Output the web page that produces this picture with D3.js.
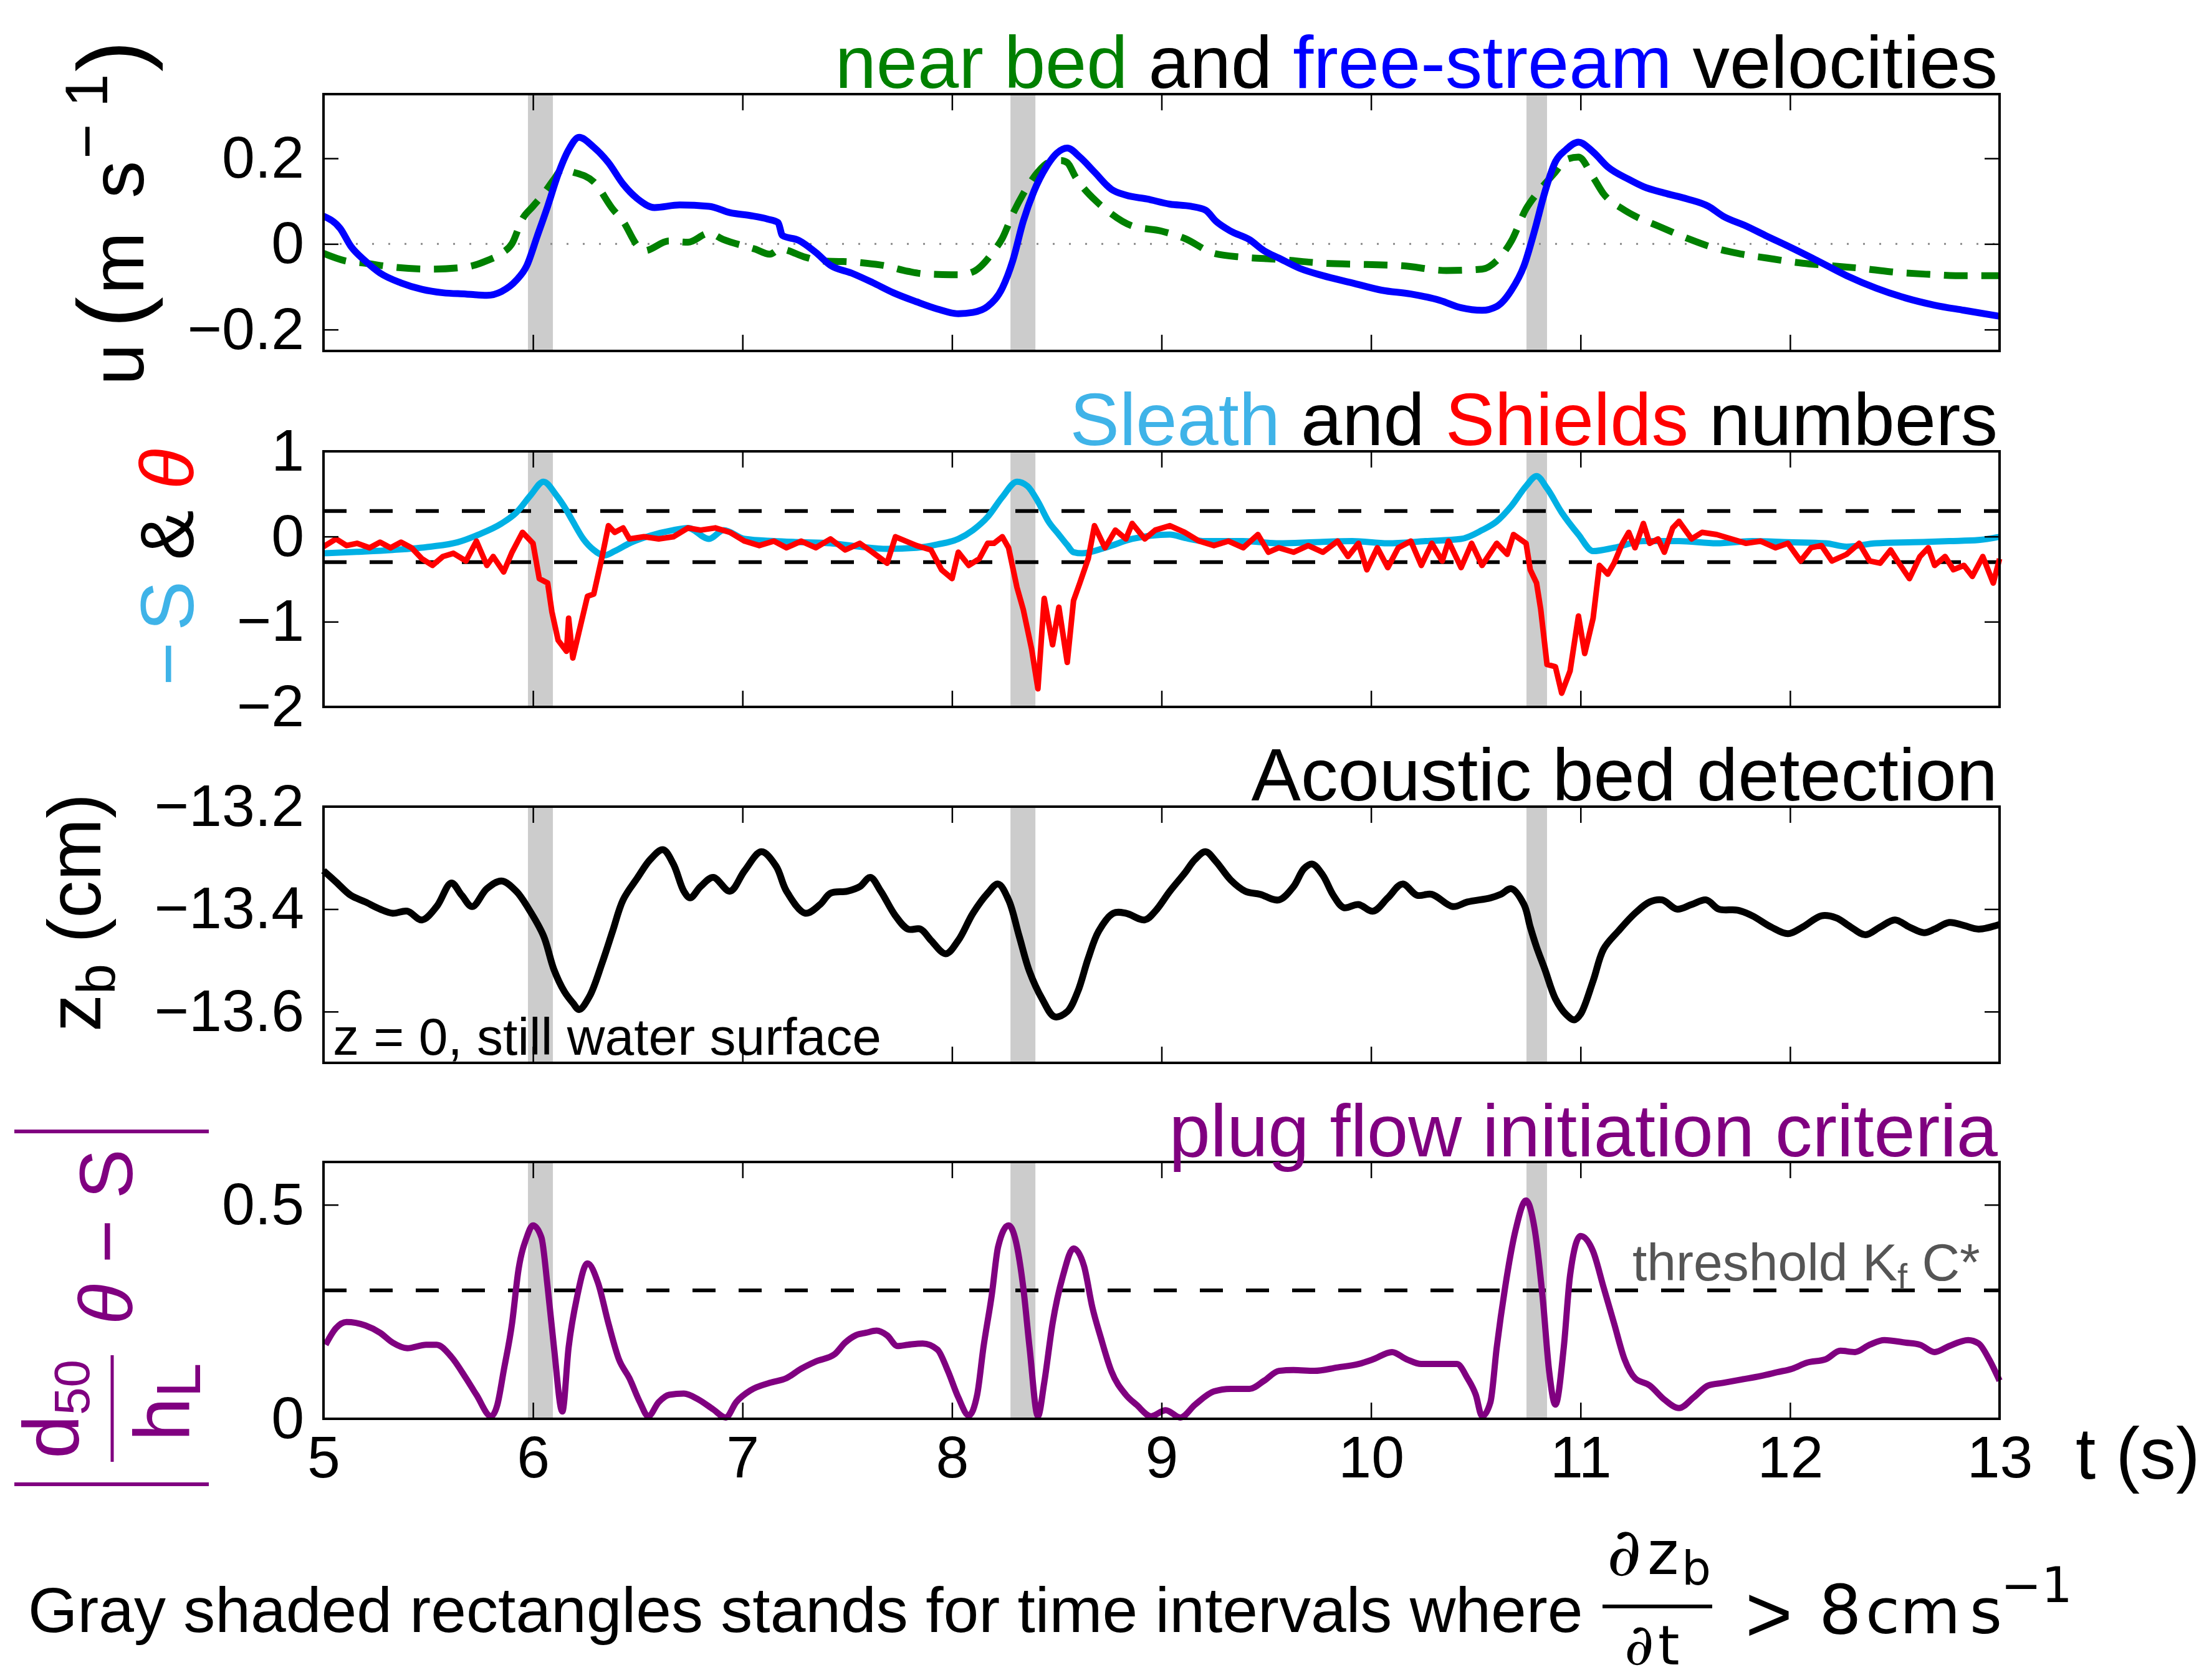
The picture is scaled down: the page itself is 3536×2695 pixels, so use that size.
<!DOCTYPE html>
<html>
<head>
<meta charset="utf-8">
<script src="https://cdn.jsdelivr.net/npm/d3@7"></script>
<style>
  body { margin: 0; background: #fff; }
  text { font-family: "Liberation Sans", Arial, Helvetica, sans-serif; }
  .math { font-family: "DejaVu Sans", sans-serif; }
  .partial { font-family: "DejaVu Serif", serif; font-style: italic; }
</style>
</head>
<body>
<svg id="fig" width="3536" height="2695"></svg>
<script>
// ---- data (t in s) ----
const shaded = [[5.976, 6.095], [8.279, 8.398], [10.742, 10.840]];

const xTicks = [5, 6, 7, 8, 9, 10, 11, 12, 13];
const uTicks = [-0.2, 0, 0.2];
const numTicks = [-2, -1, 0, 1];
const zTicks = [-13.6, -13.4, -13.2];
const critTicks = [0, 0.5];

const sleathBand = [-0.3, 0.3];
const critThreshold = 0.3;

// free-stream velocity (m/s)
const uFree = [[5.00,0.065],[5.08,0.036],[5.13,-0.005],[5.20,-0.040],[5.27,-0.068],[5.37,-0.091],[5.47,-0.106],[5.57,-0.114],[5.68,-0.117],[5.78,-0.120],[5.85,-0.111],[5.92,-0.085],[5.97,-0.051],[6.02,0.018],[6.07,0.088],[6.12,0.163],[6.17,0.220],[6.22,0.249],[6.29,0.226],[6.36,0.190],[6.43,0.140],[6.50,0.105],[6.58,0.085],[6.70,0.091],[6.84,0.088],[6.94,0.073],[7.04,0.066],[7.12,0.058],[7.17,0.050],[7.19,0.020],[7.27,0.008],[7.35,-0.020],[7.42,-0.050],[7.52,-0.068],[7.62,-0.090],[7.72,-0.114],[7.83,-0.135],[7.93,-0.152],[8.03,-0.163],[8.10,-0.160],[8.17,-0.146],[8.24,-0.103],[8.29,-0.039],[8.34,0.053],[8.39,0.122],[8.45,0.180],[8.50,0.212],[8.55,0.224],[8.61,0.203],[8.68,0.168],[8.76,0.128],[8.83,0.114],[8.93,0.105],[9.04,0.093],[9.14,0.088],[9.21,0.079],[9.26,0.053],[9.33,0.030],[9.42,0.010],[9.49,-0.016],[9.56,-0.033],[9.66,-0.057],[9.77,-0.074],[9.91,-0.091],[10.05,-0.108],[10.19,-0.117],[10.33,-0.132],[10.43,-0.149],[10.53,-0.155],[10.60,-0.146],[10.67,-0.108],[10.73,-0.051],[10.78,0.030],[10.83,0.122],[10.88,0.192],[10.93,0.220],[10.99,0.238],[11.06,0.215],[11.13,0.180],[11.23,0.151],[11.30,0.134],[11.40,0.119],[11.51,0.105],[11.61,0.088],[11.68,0.065],[11.79,0.042],[11.89,0.018],[11.99,-0.005],[12.13,-0.039],[12.27,-0.074],[12.41,-0.103],[12.55,-0.126],[12.69,-0.143],[12.83,-0.155],[13.00,-0.169]];

// near-bed velocity (m/s)
const uNear = [[5.00,-0.022],[5.10,-0.039],[5.20,-0.045],[5.33,-0.054],[5.51,-0.059],[5.68,-0.054],[5.78,-0.039],[5.85,-0.022],[5.90,0.001],[5.95,0.059],[6.00,0.088],[6.05,0.117],[6.10,0.151],[6.14,0.174],[6.19,0.168],[6.29,0.145],[6.38,0.082],[6.43,0.053],[6.50,-0.005],[6.53,-0.016],[6.65,0.007],[6.74,0.004],[6.84,0.025],[6.91,0.010],[7.06,-0.012],[7.13,-0.024],[7.18,-0.012],[7.30,-0.031],[7.38,-0.040],[7.48,-0.041],[7.59,-0.045],[7.67,-0.050],[7.79,-0.064],[7.87,-0.070],[8.03,-0.072],[8.10,-0.065],[8.20,-0.016],[8.24,0.013],[8.29,0.070],[8.34,0.117],[8.41,0.168],[8.46,0.190],[8.52,0.195],[8.55,0.190],[8.59,0.156],[8.69,0.099],[8.73,0.082],[8.86,0.042],[9.00,0.030],[9.11,0.013],[9.25,-0.022],[9.39,-0.031],[9.56,-0.036],[9.77,-0.045],[9.98,-0.048],[10.15,-0.051],[10.36,-0.062],[10.53,-0.059],[10.60,-0.039],[10.67,0.007],[10.74,0.082],[10.79,0.117],[10.88,0.168],[10.93,0.197],[10.99,0.203],[11.06,0.156],[11.11,0.117],[11.20,0.082],[11.26,0.065],[11.37,0.042],[11.51,0.013],[11.61,-0.005],[11.75,-0.022],[11.89,-0.033],[12.06,-0.045],[12.20,-0.051],[12.34,-0.057],[12.48,-0.065],[12.66,-0.071],[12.79,-0.074],[12.90,-0.074],[13.00,-0.074]];

// minus Sleath number
const sleath = [[5.00,-0.197],[5.16,-0.180],[5.33,-0.158],[5.51,-0.119],[5.64,-0.067],[5.74,0.023],[5.85,0.153],[5.92,0.280],[5.99,0.489],[6.05,0.644],[6.11,0.489],[6.16,0.308],[6.19,0.178],[6.24,-0.028],[6.29,-0.158],[6.34,-0.222],[6.39,-0.171],[6.46,-0.080],[6.56,0.010],[6.67,0.075],[6.74,0.100],[6.84,-0.028],[6.91,0.075],[7.01,-0.028],[7.15,-0.054],[7.28,-0.067],[7.42,-0.080],[7.56,-0.119],[7.69,-0.145],[7.83,-0.132],[7.93,-0.093],[8.03,-0.028],[8.10,0.075],[8.17,0.230],[8.24,0.463],[8.31,0.644],[8.36,0.592],[8.41,0.411],[8.46,0.178],[8.51,0.023],[8.55,-0.100],[8.58,-0.184],[8.62,-0.197],[8.73,-0.132],[8.86,-0.028],[9.04,0.023],[9.11,-0.016],[9.21,-0.054],[9.39,-0.054],[9.56,-0.080],[9.73,-0.067],[9.91,-0.054],[10.08,-0.080],[10.26,-0.054],[10.43,-0.028],[10.53,0.075],[10.60,0.178],[10.67,0.359],[10.74,0.592],[10.79,0.709],[10.84,0.566],[10.91,0.282],[10.99,0.023],[11.06,-0.171],[11.16,-0.132],[11.30,-0.054],[11.47,-0.054],[11.65,-0.080],[11.82,-0.054],[11.99,-0.067],[12.17,-0.080],[12.27,-0.119],[12.41,-0.080],[12.59,-0.067],[12.76,-0.054],[12.90,-0.041],[13.00,-0.003]];

// Shields number
const shields = [[5.00,-0.119],[5.06,-0.028],[5.11,-0.106],[5.16,-0.080],[5.22,-0.132],[5.27,-0.067],[5.32,-0.132],[5.37,-0.067],[5.42,-0.132],[5.47,-0.261],[5.52,-0.339],[5.57,-0.235],[5.62,-0.197],[5.68,-0.287],[5.73,-0.054],[5.78,-0.339],[5.81,-0.235],[5.86,-0.416],[5.90,-0.184],[5.95,0.049],[6.00,-0.080],[6.03,-0.494],[6.07,-0.546],[6.09,-0.882],[6.12,-1.218],[6.16,-1.347],[6.17,-0.959],[6.19,-1.425],[6.22,-1.115],[6.26,-0.701],[6.29,-0.675],[6.33,-0.235],[6.36,0.127],[6.39,0.049],[6.43,0.101],[6.46,-0.028],[6.53,-0.003],[6.60,-0.028],[6.67,-0.003],[6.74,0.101],[6.80,0.075],[6.87,0.101],[6.94,0.049],[7.01,-0.054],[7.08,-0.106],[7.15,-0.054],[7.21,-0.132],[7.28,-0.054],[7.35,-0.132],[7.42,-0.028],[7.49,-0.158],[7.56,-0.080],[7.62,-0.184],[7.69,-0.313],[7.73,-0.003],[7.78,-0.054],[7.83,-0.106],[7.90,-0.158],[7.95,-0.390],[8.00,-0.494],[8.03,-0.184],[8.08,-0.339],[8.13,-0.261],[8.17,-0.080],[8.20,-0.080],[8.24,-0.003],[8.27,-0.132],[8.31,-0.597],[8.34,-0.856],[8.38,-1.321],[8.41,-1.787],[8.44,-0.727],[8.48,-1.270],[8.51,-0.830],[8.55,-1.477],[8.58,-0.753],[8.61,-0.546],[8.65,-0.261],[8.68,0.127],[8.73,-0.132],[8.78,0.075],[8.83,-0.028],[8.86,0.153],[8.92,-0.028],[8.97,0.075],[9.04,0.127],[9.11,0.049],[9.18,-0.054],[9.25,-0.106],[9.32,-0.054],[9.39,-0.132],[9.46,0.023],[9.51,-0.184],[9.56,-0.132],[9.63,-0.184],[9.70,-0.106],[9.77,-0.184],[9.84,-0.054],[9.89,-0.235],[9.94,-0.080],[9.98,-0.390],[10.03,-0.132],[10.08,-0.365],[10.13,-0.132],[10.19,-0.054],[10.24,-0.339],[10.29,-0.080],[10.34,-0.287],[10.37,-0.054],[10.43,-0.365],[10.48,-0.080],[10.53,-0.339],[10.60,-0.080],[10.65,-0.209],[10.68,0.023],[10.74,-0.080],[10.76,-0.390],[10.79,-0.546],[10.81,-0.856],[10.84,-1.502],[10.88,-1.528],[10.91,-1.839],[10.95,-1.579],[10.99,-0.934],[11.02,-1.373],[11.06,-0.959],[11.09,-0.339],[11.13,-0.442],[11.16,-0.313],[11.20,-0.080],[11.23,0.049],[11.26,-0.132],[11.30,0.153],[11.33,-0.080],[11.37,-0.028],[11.40,-0.184],[11.44,0.101],[11.47,0.178],[11.53,-0.028],[11.58,0.049],[11.65,0.023],[11.72,-0.028],[11.79,-0.080],[11.86,-0.054],[11.93,-0.132],[11.99,-0.080],[12.05,-0.287],[12.10,-0.132],[12.15,-0.106],[12.20,-0.287],[12.27,-0.209],[12.33,-0.080],[12.38,-0.287],[12.43,-0.313],[12.48,-0.158],[12.52,-0.313],[12.57,-0.494],[12.62,-0.235],[12.66,-0.132],[12.69,-0.339],[12.74,-0.235],[12.78,-0.390],[12.83,-0.339],[12.87,-0.468],[12.92,-0.235],[12.97,-0.546],[13.00,-0.261]];

// acoustic bed level (cm)
const zBed = [[5.00,-13.325],[5.06,-13.347],[5.13,-13.373],[5.20,-13.386],[5.27,-13.400],[5.33,-13.408],[5.40,-13.404],[5.47,-13.421],[5.54,-13.395],[5.61,-13.349],[5.66,-13.373],[5.71,-13.395],[5.78,-13.360],[5.85,-13.345],[5.92,-13.365],[5.98,-13.400],[6.05,-13.452],[6.10,-13.518],[6.15,-13.561],[6.19,-13.583],[6.22,-13.596],[6.27,-13.570],[6.33,-13.505],[6.38,-13.443],[6.43,-13.382],[6.50,-13.338],[6.56,-13.303],[6.62,-13.284],[6.67,-13.312],[6.72,-13.365],[6.75,-13.378],[6.80,-13.356],[6.86,-13.338],[6.94,-13.365],[7.01,-13.325],[7.09,-13.288],[7.16,-13.316],[7.21,-13.365],[7.30,-13.408],[7.37,-13.391],[7.42,-13.369],[7.50,-13.365],[7.56,-13.356],[7.61,-13.338],[7.66,-13.365],[7.73,-13.413],[7.79,-13.439],[7.85,-13.439],[7.90,-13.461],[7.97,-13.487],[8.03,-13.461],[8.10,-13.408],[8.17,-13.369],[8.22,-13.351],[8.27,-13.382],[8.32,-13.452],[8.37,-13.522],[8.43,-13.575],[8.49,-13.610],[8.55,-13.600],[8.60,-13.561],[8.65,-13.496],[8.70,-13.443],[8.77,-13.408],[8.83,-13.408],[8.92,-13.421],[8.97,-13.404],[9.04,-13.365],[9.11,-13.330],[9.16,-13.303],[9.21,-13.288],[9.26,-13.307],[9.33,-13.343],[9.40,-13.365],[9.47,-13.371],[9.56,-13.382],[9.63,-13.356],[9.68,-13.321],[9.72,-13.312],[9.77,-13.334],[9.82,-13.373],[9.87,-13.397],[9.94,-13.391],[10.01,-13.404],[10.08,-13.378],[10.15,-13.351],[10.22,-13.373],[10.29,-13.371],[10.39,-13.395],[10.46,-13.386],[10.57,-13.378],[10.62,-13.371],[10.67,-13.360],[10.73,-13.391],[10.76,-13.435],[10.79,-13.474],[10.83,-13.518],[10.88,-13.575],[10.93,-13.605],[10.97,-13.616],[11.00,-13.605],[11.06,-13.540],[11.11,-13.478],[11.18,-13.443],[11.26,-13.408],[11.33,-13.386],[11.39,-13.382],[11.46,-13.400],[11.53,-13.391],[11.60,-13.382],[11.66,-13.400],[11.75,-13.402],[11.82,-13.413],[11.91,-13.435],[11.99,-13.448],[12.06,-13.435],[12.15,-13.413],[12.22,-13.417],[12.29,-13.435],[12.36,-13.450],[12.43,-13.435],[12.50,-13.421],[12.57,-13.435],[12.64,-13.446],[12.69,-13.439],[12.76,-13.426],[12.83,-13.432],[12.90,-13.439],[13.00,-13.430]];

// plug flow criterion |d50/hL theta - S|
const crit = [[5.01,0.173],[5.06,0.212],[5.11,0.226],[5.20,0.218],[5.27,0.201],[5.33,0.178],[5.40,0.165],[5.49,0.173],[5.54,0.173],[5.61,0.145],[5.68,0.095],[5.73,0.056],[5.80,0.006],[5.83,0.033],[5.86,0.112],[5.90,0.223],[5.93,0.346],[5.97,0.424],[6.00,0.452],[6.04,0.424],[6.07,0.307],[6.10,0.167],[6.14,0.017],[6.17,0.167],[6.21,0.284],[6.26,0.363],[6.31,0.318],[6.36,0.223],[6.41,0.139],[6.46,0.095],[6.51,0.039],[6.55,0.006],[6.60,0.039],[6.65,0.056],[6.72,0.059],[6.79,0.045],[6.86,0.022],[6.92,0.003],[6.97,0.039],[7.04,0.067],[7.13,0.084],[7.21,0.095],[7.28,0.117],[7.35,0.134],[7.44,0.151],[7.49,0.178],[7.54,0.195],[7.59,0.201],[7.64,0.206],[7.69,0.195],[7.74,0.170],[7.79,0.173],[7.86,0.176],[7.93,0.162],[7.98,0.112],[8.03,0.050],[8.08,0.008],[8.12,0.056],[8.15,0.167],[8.19,0.290],[8.22,0.402],[8.27,0.452],[8.30,0.424],[8.34,0.307],[8.37,0.167],[8.41,0.006],[8.44,0.084],[8.48,0.223],[8.53,0.335],[8.58,0.398],[8.63,0.357],[8.67,0.260],[8.71,0.190],[8.76,0.112],[8.83,0.056],[8.88,0.033],[8.95,0.006],[9.02,0.020],[9.09,0.003],[9.16,0.033],[9.25,0.064],[9.33,0.070],[9.42,0.070],[9.49,0.089],[9.56,0.112],[9.63,0.114],[9.73,0.112],[9.84,0.120],[9.94,0.128],[10.01,0.139],[10.10,0.156],[10.17,0.139],[10.24,0.128],[10.33,0.128],[10.41,0.128],[10.46,0.095],[10.50,0.056],[10.53,0.006],[10.57,0.039],[10.60,0.167],[10.64,0.307],[10.69,0.441],[10.74,0.510],[10.78,0.446],[10.82,0.279],[10.85,0.112],[10.88,0.033],[10.92,0.167],[10.95,0.335],[11.00,0.427],[11.06,0.391],[11.11,0.307],[11.16,0.223],[11.21,0.139],[11.26,0.095],[11.33,0.078],[11.40,0.045],[11.47,0.025],[11.54,0.050],[11.61,0.078],[11.68,0.084],[11.77,0.092],[11.86,0.100],[11.94,0.109],[12.01,0.117],[12.08,0.131],[12.17,0.139],[12.24,0.159],[12.31,0.156],[12.38,0.173],[12.45,0.184],[12.55,0.178],[12.62,0.173],[12.69,0.156],[12.76,0.170],[12.85,0.184],[12.90,0.176],[12.95,0.139],[13.00,0.089]];

// ---- layout ----
const svg = d3.select("#fig");
const x = d3.scaleLinear().domain([5, 13]).range([519, 3208]);
const fmt = d3.format("~g");
const tickFont = 95;

const panels = [
  { top: 151, bottom: 563, domain: [-0.25, 0.35], ticks: uTicks },
  { top: 724, bottom: 1134, domain: [-2, 1], ticks: numTicks },
  { top: 1294, bottom: 1705, domain: [-13.7, -13.2], ticks: zTicks },
  { top: 1864, bottom: 2276, domain: [0, 0.6], ticks: critTicks }
];

function styleAxis(sel) {
  sel.select(".domain").remove();
  sel.selectAll(".tick line").attr("stroke", "#000").attr("stroke-width", 2.5);
  sel.selectAll("text").attr("font-size", tickFont).attr("fill", "#000")
    .attr("font-family", '"Liberation Sans", Arial, sans-serif');
}

function makePanel(p, showXLabels) {
  const y = d3.scaleLinear().domain(p.domain).range([p.bottom, p.top]);
  const g = svg.append("g");

  // gray intervals where dz_b/dt > 8 cm/s
  g.append("g").selectAll("rect").data(shaded).join("rect")
    .attr("x", d => x(d[0])).attr("y", p.top)
    .attr("width", d => x(d[1]) - x(d[0])).attr("height", p.bottom - p.top)
    .attr("fill", "#cccccc");

  const marks = g.append("g");
  const axes = g.append("g");

  axes.append("g").attr("transform", `translate(${x.range()[0]},0)`)
    .call(d3.axisLeft(y).tickValues(p.ticks).tickFormat(fmt).tickSizeInner(-24).tickSizeOuter(0).tickPadding(31))
    .call(styleAxis);
  axes.append("g").attr("transform", `translate(${x.range()[1]},0)`)
    .call(d3.axisRight(y).tickValues(p.ticks).tickFormat("").tickSizeInner(-24).tickSizeOuter(0))
    .call(styleAxis);
  axes.append("g").attr("transform", `translate(0,${p.top})`)
    .call(d3.axisTop(x).tickValues(xTicks).tickFormat("").tickSizeInner(-26).tickSizeOuter(0))
    .call(styleAxis);
  axes.append("g").attr("transform", `translate(0,${p.bottom})`)
    .call(d3.axisBottom(x).tickValues(xTicks).tickFormat(showXLabels ? fmt : "").tickSizeInner(-26).tickSizeOuter(0).tickPadding(27))
    .call(styleAxis);

  axes.append("rect")
    .attr("x", x.range()[0]).attr("y", p.top)
    .attr("width", x.range()[1] - x.range()[0]).attr("height", p.bottom - p.top)
    .attr("fill", "none").attr("stroke", "#000").attr("stroke-width", 4);

  return { marks, y };
}

function drawLine(panel, data, color, width, curve, dash) {
  const line = d3.line().x(d => x(d[0])).y(d => panel.y(d[1])).curve(curve || d3.curveLinear);
  const path = panel.marks.append("path").datum(data)
    .attr("d", line).attr("fill", "none")
    .attr("stroke", color).attr("stroke-width", width)
    .attr("stroke-linejoin", "round").attr("stroke-linecap", "butt");
  if (dash) path.attr("stroke-dasharray", dash);
  return path;
}

function hline(panel, value, color, width, dash) {
  return panel.marks.append("line")
    .attr("x1", x.range()[0]).attr("x2", x.range()[1])
    .attr("y1", panel.y(value)).attr("y2", panel.y(value))
    .attr("stroke", color).attr("stroke-width", width)
    .attr("stroke-dasharray", dash);
}

function title(yBase, parts) {
  const t = svg.append("text").attr("x", 3205).attr("y", yBase)
    .attr("text-anchor", "end").attr("font-size", 119);
  parts.forEach(p => t.append("tspan").attr("fill", p[1]).text(p[0]));
}

function rotGroup(cx, cy) {
  return svg.append("g").attr("transform", `translate(${cx},${cy}) rotate(-90)`);
}

const cyanLine = "#00b0e4";
const cyanText = "#3fb3e8";
const purple = "#800080";

// ---- panel 1: velocities ----
const p1 = makePanel(panels[0], false);
hline(p1, 0, "#8a8a8a", 3, "3,23");
drawLine(p1, uNear, "#008000", 11, d3.curveMonotoneX, "38,22");
drawLine(p1, uFree, "#0000ff", 11, d3.curveMonotoneX);
title(141, [["near bed", "#008000"], [" and ", "#000"], ["free-stream", "#0000ff"], [" velocities", "#000"]]);

const l1 = rotGroup(230, 620);
l1.append("text").attr("x", 2).attr("font-size", 120).text("u");
l1.append("text").attr("x", 94).attr("font-size", 150).text("(");
l1.append("text").attr("x", 148).attr("font-size", 120).text("m");
l1.append("text").attr("x", 302).attr("font-size", 120).text("s");
l1.append("text").attr("x", 365).attr("y", -58).attr("font-size", 96).text("\u2212");
l1.append("text").attr("x", 448).attr("y", -58).attr("font-size", 96).text("1");
l1.append("text").attr("x", 505).attr("font-size", 150).text(")");

// ---- panel 2: Sleath and Shields ----
const p2 = makePanel(panels[1], false);
sleathBand.forEach(v => hline(p2, v, "#000", 6, "37,37"));
drawLine(p2, sleath, cyanLine, 10, d3.curveMonotoneX);
drawLine(p2, shields, "#ff0000", 9, d3.curveLinear);
title(714, [["Sleath", cyanText], [" and ", "#000"], ["Shields", "#ff0000"], [" numbers", "#000"]]);

const l2 = rotGroup(310, 1100).append("text").attr("font-size", 120);
l2.append("tspan").attr("fill", cyanText).text("\u2212");
l2.append("tspan").attr("fill", cyanText).attr("dx", 18).text("S");
l2.append("tspan").attr("fill", "#000").text(" & ");
l2.append("tspan").attr("fill", "#ff0000").attr("font-style", "italic").text("\u03b8");

// ---- panel 3: acoustic bed ----
const p3 = makePanel(panels[2], false);
drawLine(p3, zBed, "#000", 11, d3.curveCatmullRom.alpha(0.5));
title(1284, [["Acoustic bed detection", "#000"]]);
svg.append("text").attr("x", 534).attr("y", 1692).attr("font-size", 84)
  .text("z = 0, still water surface");

const l3 = rotGroup(161, 1655).append("text").attr("font-size", 120);
l3.append("tspan").text("z");
l3.append("tspan").attr("font-size", 88).attr("dy", 23).text("b");
l3.append("tspan").attr("dy", -23).text(" (cm)");

// ---- panel 4: plug flow criterion ----
const p4 = makePanel(panels[3], true);
hline(p4, critThreshold, "#000", 6, "37,37");
drawLine(p4, crit, purple, 10, d3.curveMonotoneX);
title(1855, [["plug flow initiation criteria", purple]]);

const thr = svg.append("text").attr("x", 2619).attr("y", 2054).attr("font-size", 84).attr("fill", "#555");
thr.append("tspan").text("threshold K");
thr.append("tspan").attr("font-size", 58).attr("dy", 14).text("f");
thr.append("tspan").attr("dy", -14).text(" C*");

const l4 = rotGroup(180, 2098);
[283, -283].forEach(v => l4.append("line")
  .attr("x1", v).attr("x2", v).attr("y1", -157).attr("y2", 155)
  .attr("stroke", purple).attr("stroke-width", 6));
l4.append("line").attr("x1", -247).attr("x2", -76).attr("y1", 0).attr("y2", 0)
  .attr("stroke", purple).attr("stroke-width", 5);
const num = l4.append("text").attr("x", -242).attr("y", -54).attr("font-size", 126).attr("fill", purple);
num.append("tspan").text("d");
num.append("tspan").attr("font-size", 80).attr("dy", 17).text("50");
const den = l4.append("text").attr("x", -214).attr("y", 124).attr("font-size", 126).attr("fill", purple);
den.append("tspan").text("h");
den.append("tspan").attr("font-size", 100).attr("dy", 17).text("L");
const ts = l4.append("text").attr("x", -27).attr("y", 32).attr("font-size", 120).attr("fill", purple);
ts.append("tspan").attr("font-style", "italic").text("\u03b8");
ts.append("tspan").text(" \u2212 S");

// x-axis label
svg.append("text").attr("x", 3330).attr("y", 2372).attr("font-size", 116).text("t (s)");

// ---- caption ----
svg.append("text").attr("x", 45).attr("y", 2618).attr("font-size", 102)
  .text("Gray shaded rectangles stands for time intervals where");
svg.append("text").attr("class", "partial").attr("x", 2578).attr("y", 2527).attr("font-size", 108).text("\u2202");
svg.append("text").attr("class", "math").attr("x", 2643).attr("y", 2525).attr("font-size", 96).text("z");
svg.append("text").attr("class", "math").attr("x", 2698).attr("y", 2542).attr("font-size", 74).text("b");
svg.append("line").attr("x1", 2571).attr("x2", 2747).attr("y1", 2577).attr("y2", 2577)
  .attr("stroke", "#000").attr("stroke-width", 6);
svg.append("text").attr("class", "partial").attr("x", 2606).attr("y", 2670).attr("font-size", 92).text("\u2202");
svg.append("text").attr("class", "math").attr("x", 2660).attr("y", 2670).attr("font-size", 88).text("t");
svg.append("text").attr("x", 2800).attr("y", 2634).attr("font-size", 130).attr("font-weight", 300).text(">");
svg.append("text").attr("class", "math").attr("x", 2918).attr("y", 2620).attr("font-size", 108).text("8");
svg.append("text").attr("class", "math").attr("x", 2993).attr("y", 2620).attr("font-size", 100).text("cm");
svg.append("text").attr("class", "math").attr("x", 3160).attr("y", 2620).attr("font-size", 100).text("s");
svg.append("text").attr("class", "math").attr("x", 3210).attr("y", 2570).attr("font-size", 78).text("\u22121");
</script>
</body>
</html>
